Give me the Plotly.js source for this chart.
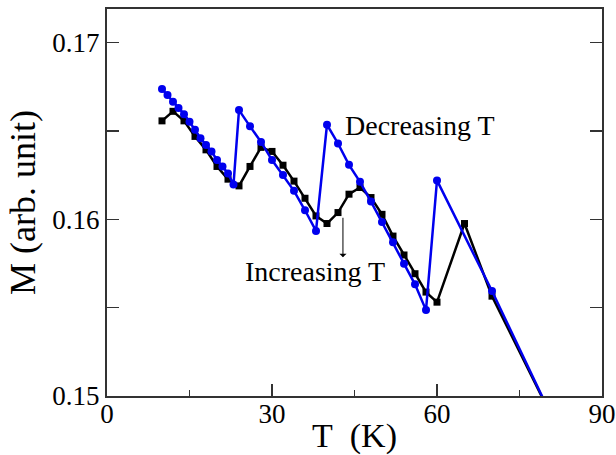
<!DOCTYPE html>
<html>
<head>
<meta charset="utf-8">
<script src="https://cdn.plot.ly/plotly-3.0.1.min.js"></script>
<style>html,body{margin:0;padding:0;background:#fff;}#chart{width:616px;height:455px;}</style>
</head>
<body>
<div id="chart"></div>
<script>
// Increasing T (black squares)
const incT = [10, 12, 14, 16, 18, 20, 22, 24, 26, 28, 30, 32, 34, 36, 38, 40, 42, 44, 46, 48, 50, 52, 54, 56, 58, 60, 65, 70, 80];
const incM = [0.16557, 0.16611, 0.16557, 0.16469, 0.16393, 0.16299, 0.16227, 0.16189, 0.16299, 0.16407, 0.16384, 0.16306, 0.16216, 0.16119, 0.16019, 0.15976, 0.16038, 0.16142, 0.1618, 0.16123, 0.16028, 0.15905, 0.15798, 0.15692, 0.15588, 0.15531, 0.15976, 0.15565, 0.14937];
// Decreasing T (blue circles)
const decT = [10, 11, 12, 13, 14, 15, 16, 17, 18, 19, 20, 21, 22, 23, 24, 26, 28, 30, 32, 34, 36, 38, 40, 42, 44, 46, 48, 50, 52, 54, 56, 58, 60, 70, 80];
const decM = [0.16737, 0.16703, 0.16665, 0.1663, 0.16595, 0.16552, 0.16506, 0.16459, 0.16421, 0.16384, 0.16336, 0.16299, 0.16259, 0.16197, 0.16618, 0.16526, 0.16438, 0.16335, 0.1625, 0.16161, 0.16051, 0.15934, 0.16535, 0.16429, 0.16308, 0.16212, 0.161, 0.15984, 0.1587, 0.15748, 0.15632, 0.15486, 0.1622, 0.15594, 0.1494];

const xTicks = [0, 30, 60, 90];
const yTicks = [0.15, 0.16, 0.17];
const yTickText = ['0.15', '0.16', '0.17'];

const labelText = ['Decreasing T', 'Increasing T'];
const labelX = [56.9, 37.8];
const labelY = [0.16533, 0.15702];
const arrowTail = [42.9, 0.16017];
const arrowHead = [42.9, 0.15785];

const serif = '"Liberation Serif", "Times New Roman", serif';

const traces = [
  {
    x: incT, y: incM, type: 'scatter', mode: 'lines+markers',
    line: {color: '#000000', width: 2.5},
    marker: {symbol: 'square', size: 7, color: '#000000'},
    name: 'Increasing T'
  },
  {
    x: decT, y: decM, type: 'scatter', mode: 'lines+markers',
    line: {color: '#0000ee', width: 2.5},
    marker: {symbol: 'circle', size: 8, color: '#0000ee'},
    name: 'Decreasing T'
  }
];

const layout = {
  width: 616, height: 455,
  margin: {l: 107, r: 14, t: 9, b: 59},
  paper_bgcolor: '#ffffff', plot_bgcolor: '#ffffff',
  showlegend: false,
  font: {family: serif, color: '#000000'},
  xaxis: {
    range: [0, 90], tickvals: xTicks, ticktext: xTicks.map(String),
    ticks: 'inside', ticklen: 12, tickwidth: 1.2, tickcolor: '#333',
    minor: {dtick: 15, tick0: 0, ticks: 'inside', ticklen: 6, tickwidth: 1.2, tickcolor: '#333'},
    showline: true, linecolor: '#333', linewidth: 2, mirror: true,
    showgrid: false, zeroline: false,
    ticklabelstandoff: -7,
    tickfont: {family: serif, size: 27, color: '#000'},
    title: {text: 'T\u00A0\u00A0(K)', font: {family: serif, size: 34, color: '#000'}, standoff: 6}
  },
  yaxis: {
    range: [0.15, 0.1719], tickvals: yTicks, ticktext: yTickText,
    ticks: 'inside', ticklen: 12, tickwidth: 1.2, tickcolor: '#333',
    minor: {dtick: 0.005, tick0: 0.15, ticks: 'inside', ticklen: 12, tickwidth: 1.2, tickcolor: '#333'},
    showline: true, linecolor: '#333', linewidth: 2, mirror: 'ticks',
    showgrid: false, zeroline: false,
    tickfont: {family: serif, size: 27, color: '#000'},
    title: {text: 'M (arb. unit)', font: {family: serif, size: 36, color: '#000'}, standoff: 6}
  },
  annotations: [
    {x: labelX[0], y: labelY[0], xref: 'x', yref: 'y', text: labelText[0], showarrow: false,
     font: {family: serif, size: 28, color: '#000'}, xanchor: 'center', yanchor: 'middle'},
    {x: labelX[1], y: labelY[1], xref: 'x', yref: 'y', text: labelText[1], showarrow: false,
     font: {family: serif, size: 28, color: '#000'}, xanchor: 'center', yanchor: 'middle'},
    {x: arrowHead[0], y: arrowHead[1], ax: arrowTail[0], ay: arrowTail[1], xref: 'x', yref: 'y',
     axref: 'x', ayref: 'y', text: '', showarrow: true, arrowhead: 1, arrowsize: 1.2,
     arrowwidth: 1, arrowcolor: '#000'}
  ]
};

Plotly.newPlot('chart', traces, layout, {displayModeBar: false, staticPlot: true});
</script>
</body>
</html>
